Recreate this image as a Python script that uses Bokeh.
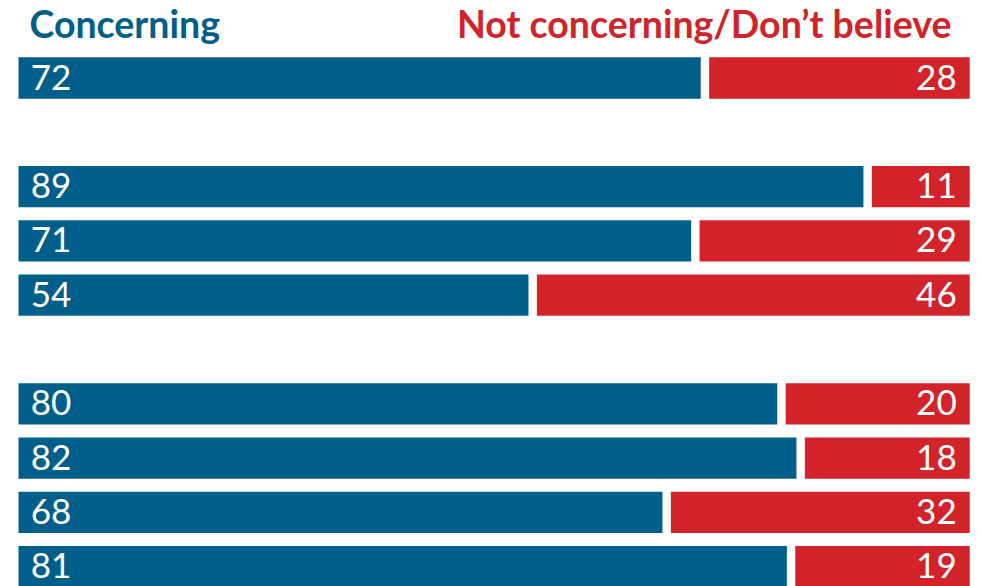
from bokeh.plotting import figure
from bokeh.models import Range1d, ColumnDataSource, Label
from bokeh.embed import file_html
from bokeh.resources import INLINE
from bokeh.core.properties import value

# ---- data ----
group_sizes = [1, 3, 4]
concerning = [72, 89, 71, 54, 80, 82, 68, 81]
not_concerning = [28, 11, 29, 46, 20, 18, 32, 19]
header_left = "Concerning"
header_right = "Not concerning/Don\u2019t believe"

BLUE = "#005E8A"
RED = "#D2232A"
FONT = "Lato"

# slot positions: rows in groups, one empty slot between groups
slots = []
s = 0
for g in group_sizes:
    for _ in range(g):
        slots.append(s)
        s += 1
    s += 1

W, H = 982, 586
PX = 9.57      # pixels per percentage point
X0 = 11.2      # pixel of value 0
ROW = 54.3     # pixels per slot
Y0 = 77.5      # pixel centre of first slot

p = figure(width=W, height=H, output_backend="svg", toolbar_location=None,
           x_range=Range1d(-X0 / PX, (W - X0) / PX),
           y_range=Range1d((H - Y0) / ROW, -Y0 / ROW),
           min_border=0, min_border_left=0, min_border_right=0,
           min_border_top=0, min_border_bottom=0)
p.axis.visible = False
p.grid.visible = False
p.outline_line_color = None
p.background_fill_color = "white"
p.border_fill_color = "white"

pad_left = 6.8 / PX
gap = 8.4 / PX
src = ColumnDataSource(dict(
    y=slots,
    c=concerning,
    n=not_concerning,
    blue_left=[pad_left] * len(slots),
    red_left=[c + gap for c in concerning],
    red_right=[c + n + 1.0 / PX for c, n in zip(concerning, not_concerning)],
    c_txt=[str(v) for v in concerning],
    n_txt=[str(v) for v in not_concerning],
    zero=[0] * len(slots),
    total=[c + n for c, n in zip(concerning, not_concerning)],
))

bh = 41.3 / ROW
p.hbar(y="y", left="blue_left", right="c", height=bh, source=src,
       fill_color=BLUE, line_color=None)
p.hbar(y="y", left="red_left", right="red_right", height=bh, source=src,
       fill_color=RED, line_color=None)

p.text(x="zero", y="y", text="c_txt", source=src, x_offset=19, y_offset=-1,
       text_font=value(FONT), text_font_size="35px", text_color="white",
       text_align="left", text_baseline="alphabetic")
p.text(x="total", y="y", text="n_txt", source=src, x_offset=-12, y_offset=-1,
       text_font=value(FONT), text_font_size="35px", text_color="white",
       text_align="right", text_baseline="alphabetic")

p.add_layout(Label(x=29, y=H - 23, x_units="screen", y_units="screen",
                   text=header_left, text_font=FONT, text_font_size="37.5px",
                   text_font_style="bold", text_color=BLUE,
                   text_align="left", text_baseline="alphabetic"))
p.add_layout(Label(x=951, y=H - 23, x_units="screen", y_units="screen",
                   text=header_right, text_font=FONT, text_font_size="37.5px",
                   text_font_style="bold", text_color=RED,
                   text_align="right", text_baseline="alphabetic"))

open("out.html", "w").write(file_html(p, INLINE))
